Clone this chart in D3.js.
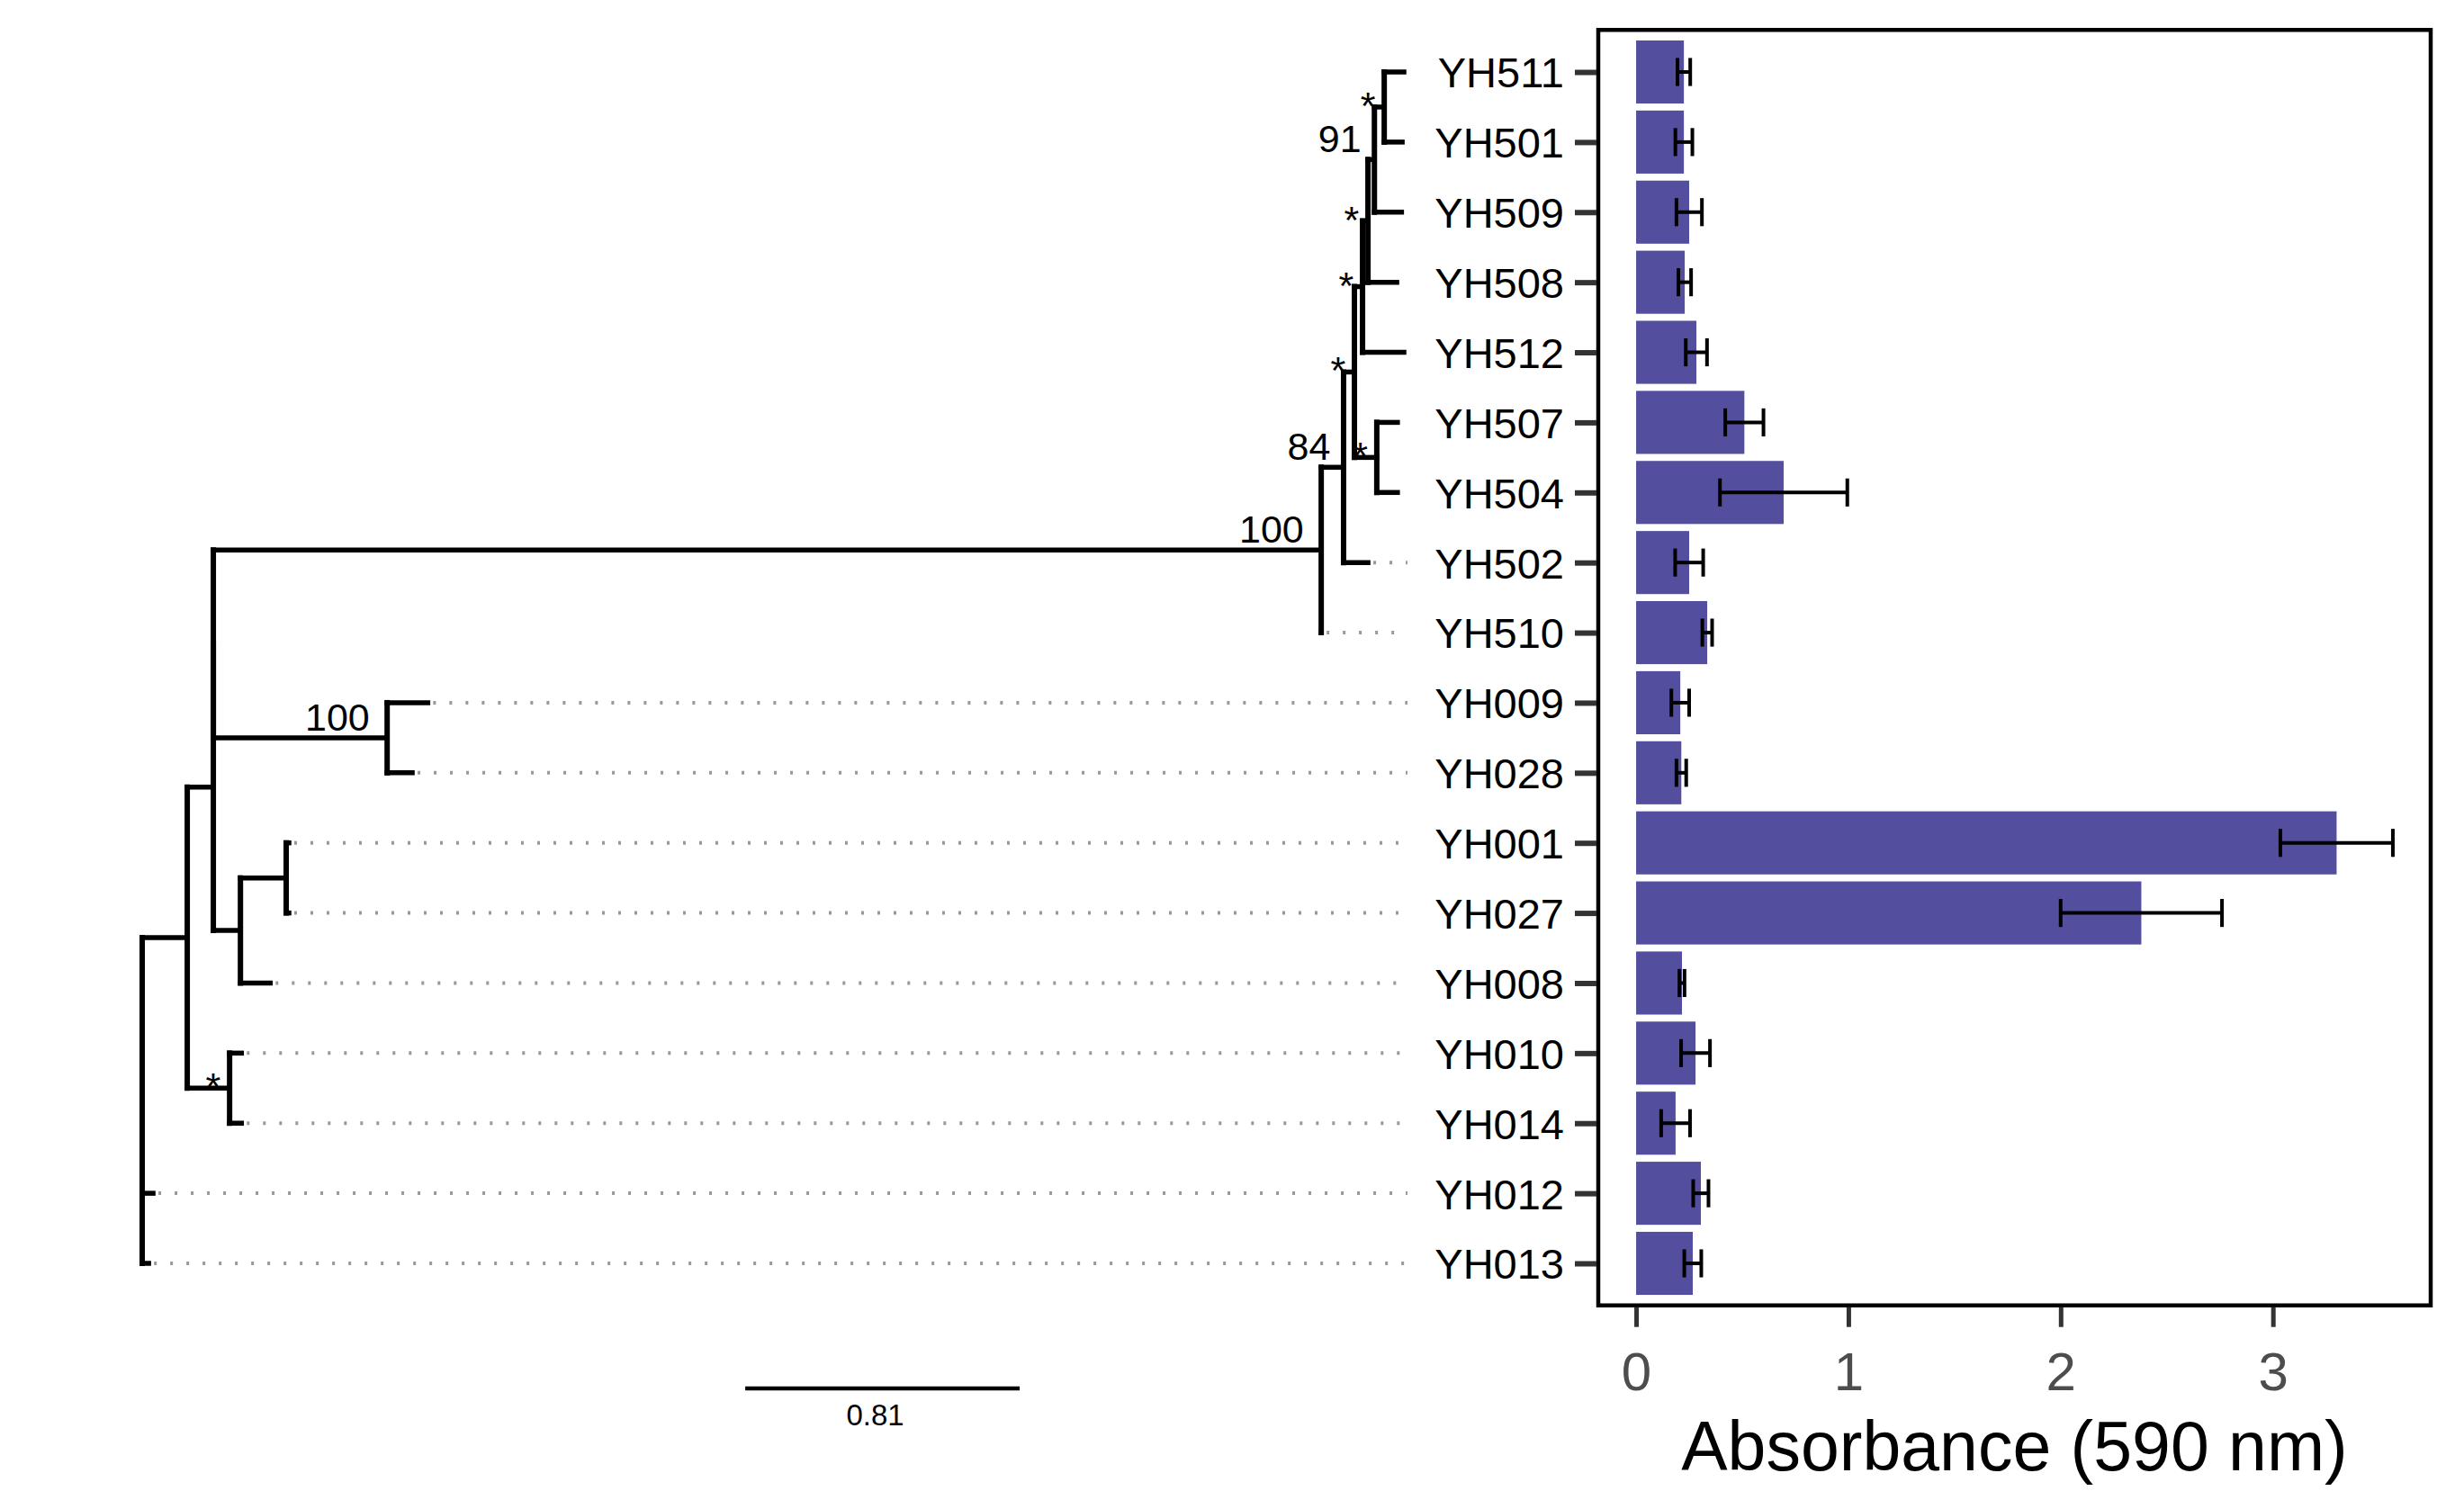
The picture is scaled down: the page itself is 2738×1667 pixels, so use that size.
<!DOCTYPE html>
<html>
<head>
<meta charset="utf-8">
<script src="https://cdn.jsdelivr.net/npm/d3@7"></script>
<style>
  body { margin: 0; background: #ffffff; }
  text { font-family: "Liberation Sans", Arial, sans-serif; }
</style>
</head>
<body>
<svg id="chart" width="2738" height="1667"></svg>
<script>
// strains, top to bottom (tree tip order = bar order)
const taxa = ["YH511", "YH501", "YH509", "YH508", "YH512", "YH507", "YH504", "YH502", "YH510",
    "YH009", "YH028", "YH001", "YH027", "YH008", "YH010", "YH014", "YH012", "YH013"];

// absorbance at 590 nm, mean and error
const absorbance = [0.225, 0.225, 0.25, 0.229, 0.284, 0.51, 0.695, 0.25, 0.335,
    0.208, 0.213, 3.30, 2.38, 0.216, 0.28, 0.186, 0.305, 0.267];
const absorbanceSd = [0.03, 0.04, 0.06, 0.03, 0.05, 0.09, 0.30, 0.066, 0.023,
    0.042, 0.023, 0.265, 0.38, 0.012, 0.068, 0.068, 0.036, 0.04];

const xTicks = [0, 1, 2, 3];

// tree edges: child, parent, branch length
const edgeChild = ["A", "YH012", "YH013", "B", "C", "EF", "D", "E", "F", "H", "YH510", "I", "YH502",
    "J4", "K", "J3", "YH512", "J2", "YH508", "J1", "YH509", "YH511", "YH501", "YH507", "YH504",
    "YH009", "YH028", "G", "YH008", "YH001", "YH027", "YH010", "YH014"];
const edgeParent = ["root", "root", "root", "A", "A", "B", "B", "EF", "EF", "E", "E", "H", "H",
    "I", "I", "J4", "J4", "J3", "J3", "J2", "J2", "J1", "J1", "K", "K",
    "F", "F", "D", "D", "G", "G", "C", "C"];
const edgeLength = [0.133, 0.032, 0.019, 0.077, 0.125, 0, 0.080, 3.270, 0.513, 0.066, 0, 0.032, 0.072,
    0.024, 0.066, 0.016, 0.122, 0.019, 0.085, 0.029, 0.080, 0.058, 0.053, 0.061, 0.061,
    0.120, 0.074, 0.135, 0.088, 0.008, 0.008, 0.035, 0.035];

// bootstrap support
const supportNode = ["J1", "J2", "J3", "J4", "I", "K", "H", "E", "F", "C"];
const supportText = ["*", "91", "*", "*", "*", "*", "84", "100", "100", "*"];

const scaleBarLength = 0.81;

const svg = d3.select("#chart");

const rowY = d3.scalePoint().domain(taxa).range([80, 1404]);
const step = rowY.step();

const panel = {
    left: 1776,
    right: 2701,
    top: rowY(taxa[0]) - 0.6 * step,
    bottom: rowY(taxa[taxa.length - 1]) + 0.6 * step
};

// ---- bar chart ----
const xMax = d3.max(absorbance, (v, i) => v + absorbanceSd[i]);
const x = d3.scaleLinear()
    .domain([-0.05 * xMax, 1.05 * xMax])
    .range([panel.left, panel.right]);

const barData = taxa.map((t, i) => ({ taxon: t, mean: absorbance[i], sd: absorbanceSd[i] }));

svg.append("g")
    .selectAll("rect")
    .data(barData)
    .join("rect")
    .attr("x", x(0))
    .attr("y", d => rowY(d.taxon) - 0.45 * step)
    .attr("width", d => x(d.mean) - x(0))
    .attr("height", 0.9 * step)
    .attr("fill", "#534f9e");

const err = svg.append("g")
    .attr("stroke", "#000")
    .attr("stroke-width", 4)
    .selectAll("g")
    .data(barData)
    .join("g");

err.append("line")
    .attr("x1", d => x(d.mean - d.sd)).attr("x2", d => x(d.mean + d.sd))
    .attr("y1", d => rowY(d.taxon)).attr("y2", d => rowY(d.taxon));
err.append("line")
    .attr("x1", d => x(d.mean - d.sd)).attr("x2", d => x(d.mean - d.sd))
    .attr("y1", d => rowY(d.taxon) - 0.2 * step).attr("y2", d => rowY(d.taxon) + 0.2 * step);
err.append("line")
    .attr("x1", d => x(d.mean + d.sd)).attr("x2", d => x(d.mean + d.sd))
    .attr("y1", d => rowY(d.taxon) - 0.2 * step).attr("y2", d => rowY(d.taxon) + 0.2 * step);

svg.append("rect")
    .attr("x", panel.left).attr("y", panel.top)
    .attr("width", panel.right - panel.left)
    .attr("height", panel.bottom - panel.top)
    .attr("fill", "none")
    .attr("stroke", "#000")
    .attr("stroke-width", 4.5);

// axes
const yAxis = svg.append("g")
    .attr("transform", `translate(${panel.left - 2},0)`)
    .call(d3.axisLeft(rowY).tickSize(24).tickPadding(12));
yAxis.select(".domain").remove();
yAxis.selectAll(".tick line").attr("stroke", "#333").attr("stroke-width", 6);
yAxis.selectAll(".tick text")
    .attr("dy", "0.36em")
    .style("font-size", "47px")
    .style("font-family", "'Liberation Sans', Arial, sans-serif")
    .attr("fill", "#000");

const xAxis = svg.append("g")
    .attr("transform", `translate(0,${panel.bottom + 2})`)
    .call(d3.axisBottom(x).tickValues(xTicks).tickFormat(d3.format("d")).tickSize(22).tickPadding(28));
xAxis.select(".domain").remove();
xAxis.selectAll(".tick line").attr("stroke", "#333").attr("stroke-width", 5);
xAxis.selectAll(".tick text")
    .style("font-size", "60px")
    .style("font-family", "'Liberation Sans', Arial, sans-serif")
    .attr("fill", "#4d4d4d");

svg.append("text")
    .attr("x", (panel.left + panel.right) / 2)
    .attr("y", 1634)
    .attr("text-anchor", "middle")
    .style("font-size", "77px")
    .attr("fill", "#000")
    .text("Absorbance (590 nm)");

// ---- tree ----
const treeRows = [{ id: "root", parent: null, length: 0 }]
    .concat(edgeChild.map((c, i) => ({ id: c, parent: edgeParent[i], length: edgeLength[i] })));

const root = d3.stratify()
    .id(d => d.id)
    .parentId(d => d.parent)(treeRows);

root.eachBefore(n => { n.len = n.parent ? n.parent.len + n.data.length : 0; });
root.eachAfter(n => {
    n.yy = n.children
        ? (d3.min(n.children, c => c.yy) + d3.max(n.children, c => c.yy)) / 2
        : rowY(n.id);
});

const maxLen = d3.max(root.leaves(), l => l.len);
const treeX = d3.scaleLinear().domain([0, maxLen]).range([158, 1560]);

const tree = svg.append("g");

// dotted guides to aligned tips
tree.append("g")
    .selectAll("line")
    .data(root.leaves().filter(l => treeX(maxLen) - treeX(l.len) > 15))
    .join("line")
    .attr("x1", d => treeX(d.len) + 6)
    .attr("x2", treeX(maxLen) + 4)
    .attr("y1", d => d.yy).attr("y2", d => d.yy)
    .attr("stroke", "#999")
    .attr("stroke-width", 4)
    .attr("stroke-dasharray", "3,15");

tree.append("g")
    .selectAll("line")
    .data(root.descendants().filter(n => n.parent))
    .join("line")
    .attr("x1", d => treeX(d.parent.len))
    .attr("x2", d => treeX(d.len))
    .attr("y1", d => d.yy).attr("y2", d => d.yy)
    .attr("stroke", "#000")
    .attr("stroke-width", 5.5)
    .attr("stroke-linecap", "square");

tree.append("g")
    .selectAll("line")
    .data(root.descendants().filter(n => n.children))
    .join("line")
    .attr("x1", d => treeX(d.len)).attr("x2", d => treeX(d.len))
    .attr("y1", d => d3.min(d.children, c => c.yy))
    .attr("y2", d => d3.max(d.children, c => c.yy))
    .attr("stroke", "#000")
    .attr("stroke-width", 6)
    .attr("stroke-linecap", "square");

// support values
const supportData = supportNode.map((id, i) => ({ node: root.find(n => n.id === id), label: supportText[i] }));
tree.append("g")
    .selectAll("text")
    .data(supportData)
    .join("text")
    .attr("x", d => treeX(d.node.len) - 0.2 * d.label.length * 24 - 5)
    .attr("y", d => d.node.yy + (d.label === "*" ? 13 : -8))
    .attr("text-anchor", "end")
    .style("font-size", "43px")
    .attr("fill", "#000")
    .text(d => d.label);

// scale bar
const sbStart = 1.78;
const sbY = 1543;
svg.append("line")
    .attr("x1", treeX(sbStart)).attr("x2", treeX(sbStart + scaleBarLength))
    .attr("y1", sbY).attr("y2", sbY)
    .attr("stroke", "#000")
    .attr("stroke-width", 4.5);
svg.append("text")
    .attr("x", (treeX(sbStart) + treeX(sbStart + scaleBarLength)) / 2 - 8)
    .attr("y", sbY + 41)
    .attr("text-anchor", "middle")
    .style("font-size", "33px")
    .attr("fill", "#000")
    .text(scaleBarLength);
</script>
</body>
</html>
